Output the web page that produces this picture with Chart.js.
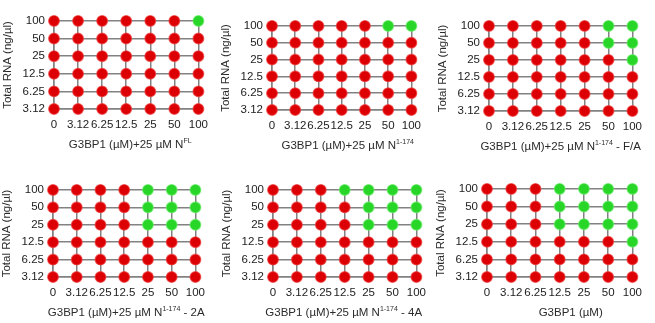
<!DOCTYPE html>
<html>
<head>
<meta charset="utf-8">
<script src="https://cdn.jsdelivr.net/npm/chart.js@4.4.1/dist/chart.umd.min.js"></script>
<style>
  body { margin: 0; background: #fff; }
  #wrap { position: relative; width: 655px; height: 323px; overflow: hidden; }
  #wrap canvas { position: absolute; }
</style>
</head>
<body>
<div id="wrap"></div>
<script>
// G3BP1 concentration (uM), left to right
const g3bp1Labels = ['0', '3.12', '6.25', '12.5', '25', '50', '100'];
// total RNA (ng/ul), bottom to top
const rnaLabels = ['3.12', '6.25', '12.5', '25', '50', '100'];

// 1 = condensates, 0 = none. Rows run from 100 ng/ul RNA (top) down to 3.12
const phaseNFL = [
  [0,0,0,0,0,0,1],
  [0,0,0,0,0,0,0],
  [0,0,0,0,0,0,0],
  [0,0,0,0,0,0,0],
  [0,0,0,0,0,0,0],
  [0,0,0,0,0,0,0]
];
const phaseN174 = [
  [0,0,0,0,0,1,1],
  [0,0,0,0,0,0,0],
  [0,0,0,0,0,0,0],
  [0,0,0,0,0,0,0],
  [0,0,0,0,0,0,0],
  [0,0,0,0,0,0,0]
];
const phaseFA = [
  [0,0,0,0,0,1,1],
  [0,0,0,0,0,1,1],
  [0,0,0,0,0,0,1],
  [0,0,0,0,0,0,0],
  [0,0,0,0,0,0,0],
  [0,0,0,0,0,0,0]
];
const phase2A = [
  [0,0,0,0,1,1,1],
  [0,0,0,0,1,1,1],
  [0,0,0,0,1,1,1],
  [0,0,0,0,0,0,0],
  [0,0,0,0,0,0,0],
  [0,0,0,0,0,0,0]
];
const phase4A = [
  [0,0,0,1,1,1,1],
  [0,0,0,0,1,1,1],
  [0,0,0,0,1,1,1],
  [0,0,0,0,0,0,0],
  [0,0,0,0,0,0,0],
  [0,0,0,0,0,0,0]
];
const phaseG3BP1 = [
  [0,0,0,1,1,1,1],
  [0,0,0,1,1,1,1],
  [0,0,0,1,1,1,1],
  [0,0,0,0,0,0,1],
  [0,0,0,0,0,0,0],
  [0,0,0,0,0,0,0]
];

const titleMain = ['G3BP1 (\u00b5M)+25 \u00b5M N', 'G3BP1 (\u00b5M)+25 \u00b5M N', 'G3BP1 (\u00b5M)+25 \u00b5M N',
                   'G3BP1 (\u00b5M)+25 \u00b5M N', 'G3BP1 (\u00b5M)+25 \u00b5M N', 'G3BP1 (\u00b5M)'];
const titleSup = ['FL', '1-174', '1-174', '1-174', '1-174', ''];
const titleTail = ['', '', ' - F/A', ' - 2A', ' - 4A', ''];

const phases = [phaseNFL, phaseN174, phaseFA, phase2A, phase4A, phaseG3BP1];

// plot area of each panel on the page
const boxes = [
  { left: 54,  top: 17,  w: 149, h: 92, dx: 4 },
  { left: 272, top: 22,  w: 144, h: 88, dx: 6 },
  { left: 489, top: 22,  w: 148, h: 89, dx: 0 },
  { left: 53,  top: 186, w: 147, h: 91, dx: 2 },
  { left: 273, top: 186, w: 148, h: 91, dx: -1 },
  { left: 487, top: 185, w: 150, h: 92, dx: 11 }
];

const FONT = 'Liberation Sans, Arial, sans-serif';
Chart.defaults.font.family = FONT;

const RED = 'rgb(220,0,4)';
const GREEN = 'rgb(40,214,40)';
const LINE = '#828282';

// axis title under the grid, with the superscripted construct name
const xTitle = {
  id: 'xTitle',
  afterDraw(chart, args, opts) {
    const ctx = chart.ctx;
    const area = chart.chartArea;
    const main = opts.main, sup = opts.sup, tail = opts.tail;
    ctx.save();
    ctx.fillStyle = '#2b2b2b';
    ctx.textBaseline = 'middle';
    ctx.font = '11.5px ' + FONT;
    const wMain = ctx.measureText(main).width;
    const wTail = ctx.measureText(tail).width;
    ctx.font = '7px ' + FONT;
    const wSup = ctx.measureText(sup).width;
    let x = (area.left + area.right) / 2 + opts.dx - (wMain + wSup + wTail) / 2;
    const y = area.bottom + 36;
    ctx.textAlign = 'left';
    ctx.font = '11.5px ' + FONT;
    ctx.fillText(main, x, y);
    x += wMain;
    ctx.font = '7px ' + FONT;
    ctx.fillText(sup, x, y - 4);
    x += wSup;
    ctx.font = '11.5px ' + FONT;
    ctx.fillText(tail, x, y);
    ctx.restore();
  }
};

const wrap = document.getElementById('wrap');

function makePanel(i) {
  const box = boxes[i];
  const canvas = document.createElement('canvas');
  const cw = box.w + 54 + 14;
  const ch = box.h + 12 + 48;
  canvas.width = cw;
  canvas.height = ch;
  canvas.style.width = cw + 'px';
  canvas.style.height = ch + 'px';
  canvas.style.left = (box.left - 54) + 'px';
  canvas.style.top = (box.top - 12) + 'px';
  wrap.appendChild(canvas);

  const none = [], drops = [];
  phases[i].forEach((row, r) => {
    row.forEach((v, c) => {
      const pt = { x: c, y: rnaLabels.length - 1 - r };
      (v ? drops : none).push(pt);
    });
  });

  const pointStyle = (color, glow) => ({
    backgroundColor: color,
    borderColor: glow,
    borderWidth: 1.2,
    pointRadius: 5.4,
    pointHoverRadius: 5.4,
    clip: false
  });

  return new Chart(canvas, {
    type: 'scatter',
    data: {
      datasets: [
        Object.assign({ data: none }, pointStyle(RED, 'rgba(240,60,60,0.65)')),
        Object.assign({ data: drops }, pointStyle(GREEN, 'rgba(100,235,100,0.65)'))
      ]
    },
    options: {
      responsive: false,
      animation: false,
      layout: { padding: { left: 0, top: 12, right: 14, bottom: 0 } },
      plugins: {
        legend: { display: false },
        tooltip: { enabled: false },
        xTitle: { main: titleMain[i], sup: titleSup[i], tail: titleTail[i], dx: box.dx }
      },
      scales: {
        x: {
          type: 'linear',
          min: 0,
          max: g3bp1Labels.length - 1,
          ticks: {
            stepSize: 1,
            autoSkip: false,
            maxRotation: 0,
            padding: 9,
            color: '#222',
            font: { size: 11.5 },
            callback: v => g3bp1Labels[v]
          },
          grid: { color: LINE, lineWidth: 1.5, drawTicks: false },
          border: { color: LINE, width: 1.5 },
          afterFit: s => { s.height = 48; }
        },
        y: {
          type: 'linear',
          min: 0,
          max: rnaLabels.length - 1,
          ticks: {
            stepSize: 1,
            autoSkip: false,
            padding: 9,
            color: '#222',
            font: { size: 11.5 },
            callback: v => rnaLabels[v]
          },
          grid: { color: LINE, lineWidth: 1.5, drawTicks: false },
          border: { color: LINE, width: 1.5 },
          title: {
            display: true,
            text: 'Total RNA (ng/\u00b5l)',
            color: '#2b2b2b',
            font: { size: 11.5 },
            padding: { top: 1, bottom: 0 }
          },
          afterFit: s => { s.width = 54; }
        }
      }
    },
    plugins: [xTitle]
  });
}

for (let i = 0; i < boxes.length; i++) makePanel(i);
</script>
</body>
</html>
